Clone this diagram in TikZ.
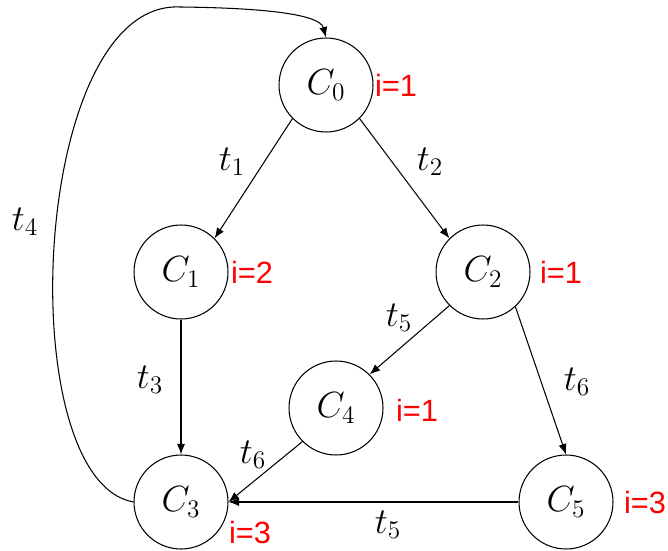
\documentclass[tikz,border=0pt]{standalone}
\usepackage{fontspec}
\usepackage{tikz}
\usetikzlibrary{arrows.meta}
\newfontfamily\cntfont{Liberation Sans}

\begin{document}
\begin{tikzpicture}[x=0.02cm, y=-0.02cm, >={Latex[length=6pt,width=4.6pt]}, line width=0.6pt,
  cell/.style={draw, circle, minimum size=1.88cm, inner sep=0pt, font=\fontsize{21}{24}\selectfont},
  cnt/.style={red, inner sep=0pt, font=\cntfont\fontsize{17.5}{20}\selectfont},
  lbl/.style={inner sep=0pt, font=\fontsize{21}{24}\selectfont}]
\useasboundingbox (0,0) rectangle (668,550);
\node[cell] (c0) at (326,85) {$C_0$};
\node[cell] (c1) at (181,272) {$C_1$};
\node[cell] (c2) at (483,272) {$C_2$};
\node[cell] (c4) at (336,408) {$C_4$};
\node[cell] (c3) at (181,502) {$C_3$};
\node[cell] (c5) at (566,502) {$C_5$};
\node[cnt] (n0) at (396,85) {i=1};
\node[cnt] (n1) at (252,272) {i=2};
\node[cnt] (n2) at (561,272) {i=1};
\node[cnt] (n4) at (417,410) {i=1};
\node[cnt] (n3) at (250,533) {i=3};
\node[cnt] (n5) at (645,503) {i=3};
\node[lbl] (t1) at (232,162) {$t_1$};
\node[lbl] (t2) at (430,162) {$t_2$};
\node[lbl] (t4) at (25,222) {$t_4$};
\node[lbl] (t3) at (150,380) {$t_3$};
\node[lbl] (t5a) at (399,318) {$t_5$};
\node[lbl] (t6a) at (577,382) {$t_6$};
\node[lbl] (t6b) at (253,455) {$t_6$};
\node[lbl] (t5b) at (388,525) {$t_5$};
\draw[->] (c0.225) -- (c1.45);
\draw[->] (c0.-45) -- (c2.135);
\draw[->] (c1.south) -- (c3.north);
\draw[->] (c2.225) -- (c4.45);
\draw[->] (c2.-47) -- (c5.north);
\draw[->] (c4.225) -- (c3.east);
\draw[->] (c5.west) -- (c3.east);
\draw[->] (c3.west) .. controls (10,480) and (30,0) .. (180,7) .. controls (270,8) and (320,15) .. (c0.north);
\end{tikzpicture}
\end{document}
